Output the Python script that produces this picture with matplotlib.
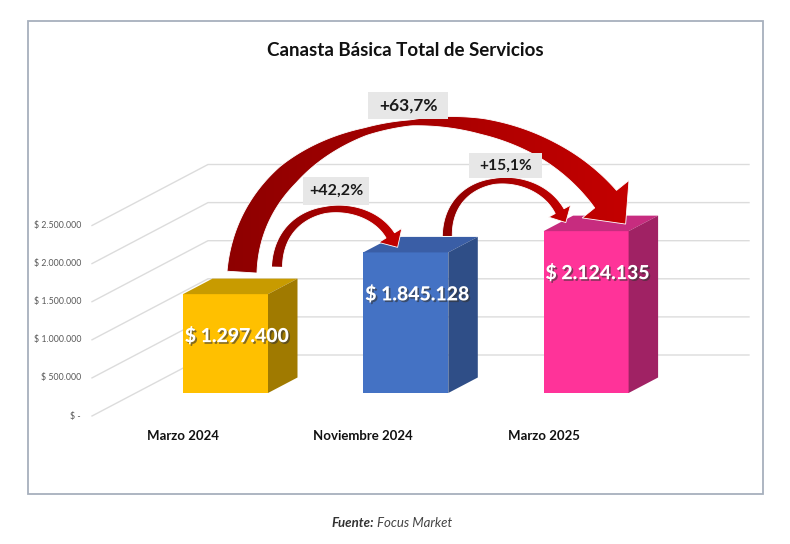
import numpy as np
import matplotlib
matplotlib.use("Agg")
import matplotlib.pyplot as plt
from matplotlib.patches import Polygon, Rectangle
from matplotlib.colors import LinearSegmentedColormap
import matplotlib.patheffects as pe

# ---------------- data ----------------
categories = ["Marzo 2024", "Noviembre 2024", "Marzo 2025"]
values = [1297400, 1845128, 2124135]
value_labels = ["$ 1.297.400", "$ 1.845.128", "$ 2.124.135"]
tick_values = [0, 500000, 1000000, 1500000, 2000000, 2500000]
tick_labels = ["$ -", "$ 500.000", "$ 1.000.000", "$ 1.500.000", "$ 2.000.000", "$ 2.500.000"]
changes = [("+42,2%", 0, 1), ("+15,1%", 1, 2), ("+63,7%", 0, 2)]
title = "Canasta Básica Total de Servicios"

front_colors = ["#FFC000", "#4472C4", "#FF3399"]
top_colors = ["#C89B00", "#3A5EA6", "#C72C7F"]
side_colors = ["#A07A00", "#2F4E87", "#A02264"]

FONT = ["Lato", "DejaVu Sans"]
plt.rcParams["font.family"] = FONT

W_PX, H_PX = 790, 544
PXC = 180.3      # pixels per category
PXV = 76.2       # pixels per million
X0, Y0 = 183, 393  # pixel of category 0 / value 0 on front plane

fig = plt.figure(figsize=(W_PX / 100, H_PX / 100), dpi=100)
fig.patch.set_facecolor("white")
ax = fig.add_axes([0, 0, 1, 1])
XLIM = (-X0 / PXC, (W_PX - X0) / PXC)
YLIM = ((Y0 - H_PX) / PXV * 1e6, Y0 / PXV * 1e6)
ax.set_xlim(*XLIM)
ax.set_ylim(*YLIM)
ax.axis("off")

def cx(dpx):
    return dpx / PXC

def cy(dpx):
    return dpx / PXV * 1e6

def to_px(x, y):
    d = ax.transData.transform(np.column_stack([np.atleast_1d(x), np.atleast_1d(y)]))
    return d[:, 0], H_PX - d[:, 1]

def from_px(X, Y):
    return ax.transData.inverted().transform(np.column_stack([X, H_PX - np.asarray(Y)]))

# frame
fig.add_artist(Rectangle((28 / W_PX, (H_PX - 494) / H_PX), (763 - 28) / W_PX, (494 - 21) / H_PX,
                         transform=fig.transFigure, fill=False, edgecolor="#A7B0BD", lw=1.3))

# ---------------- grid (floor + back wall) ----------------
x_front, x_back, x_end = cx(92 - X0), cx(208 - X0), cx(749 - X0)
off_front, off_back = -cy(23), cy(38)
for v, lab in zip(tick_values, tick_labels):
    ax.plot([x_front, x_back, x_end], [v + off_front, v + off_back, v + off_back],
            color="#DCDCDC", lw=1.0, zorder=1, solid_joinstyle="miter")
    ax.text(cx(81 - X0), v + off_front, lab, ha="right", va="center",
            fontsize=6.3, color="#595959", zorder=2)

# ---------------- 3D bars ----------------
bw = cx(85)
ddx, ddy = cx(29.5), cy(15.5)
idx = np.arange(len(categories))
ax.bar(idx, values, width=bw, align="edge", color=front_colors, zorder=3, linewidth=0)
for i, v in enumerate(values):
    top = Polygon([[i, v], [i + bw, v], [i + bw + ddx, v + ddy], [i + ddx, v + ddy]],
                  closed=True, facecolor=top_colors[i], edgecolor="none", zorder=3)
    side = Polygon([[i + bw, 0], [i + bw + ddx, ddy], [i + bw + ddx, v + ddy], [i + bw, v]],
                   closed=True, facecolor=side_colors[i], edgecolor="none", zorder=3)
    ax.add_patch(top)
    ax.add_patch(side)
    ax.text(i + cx(54), v - cy(42), value_labels[i], ha="center", va="center",
            fontsize=14, fontweight="black", color="white", zorder=6,
            path_effects=[pe.withSimplePatchShadow(offset=(1.2, -1.2), shadow_rgbFace="#333333", alpha=0.6)])
    ax.text(i, -cy(43), categories[i], ha="center", va="center",
            fontsize=9.5, fontweight="bold", color="#111111", zorder=6)

# ---------------- curved arrows ----------------
red_cmap = LinearSegmentedColormap.from_list("reds", ["#8E0000", "#A80000", "#C40000"])

def curved_arrow(p0, p3, d1, d2, widths, head_w, head_l):
    p0 = np.array(p0, float); p3 = np.array(p3, float)
    p1 = p0 + np.array(d1); p2 = p3 + np.array(d2)
    t = np.linspace(0, 1, 160)[:, None]
    B = (1 - t) ** 3 * p0 + 3 * (1 - t) ** 2 * t * p1 + 3 * (1 - t) * t ** 2 * p2 + t ** 3 * p3
    D = 3 * (1 - t) ** 2 * (p1 - p0) + 6 * (1 - t) * t * (p2 - p1) + 3 * t ** 2 * (p3 - p2)
    D = D / np.linalg.norm(D, axis=1)[:, None]
    N = np.column_stack([-D[:, 1], D[:, 0]])
    wt, wv = zip(*widths)
    w = np.interp(t[:, 0], wt, wv)[:, None]
    L = B + N * w / 2
    R = B - N * w / 2
    de, ne = D[-1], N[-1]
    tip = p3 + de * head_l
    pts = np.vstack([L, p3 + ne * head_w / 2, tip, p3 - ne * head_w / 2, R[::-1]])
    data = from_px(pts[:, 0], pts[:, 1])
    poly = Polygon(data, closed=True, facecolor="none", edgecolor="none", zorder=4)
    ax.add_patch(poly)
    xmin, ymin = data.min(axis=0)
    xmax, ymax = data.max(axis=0)
    grad = np.linspace(0, 1, 256)[None, :]
    im = ax.imshow(grad, cmap=red_cmap, extent=[xmin, xmax, ymin, ymax], aspect="auto",
                   zorder=4, interpolation="bilinear", origin="lower")
    im.set_clip_path(poly)
    ax.add_patch(Polygon(data, closed=True, facecolor="none", edgecolor="white",
                         lw=0.6, zorder=4.1, joinstyle="miter"))

bx, by = [], []
for i, v in enumerate(values):
    X, Y = to_px(i, v)
    bx.append(X[0]); by.append(Y[0])

# big arrow 0 -> 2
curved_arrow((bx[0] + 59, by[0] - 22), (bx[2] + 62, by[2] - 32), (10, -160), (-106, -132),
             [(0, 30), (0.25, 23), (0.45, 8), (0.55, 6), (0.7, 16), (0.85, 21), (1, 28)], 60, 32)
# 0 -> 1
curved_arrow((bx[0] + 94, by[0] - 27), (bx[1] + 27, by[1] - 17), (2, -69), (-25, -41),
             [(0, 11), (0.5, 7), (1, 10)], 27, 14)
# 1 -> 2
curved_arrow((bx[1] + 84, by[1] - 16), (bx[2] + 16, by[2] - 20), (0, -67), (-25, -46),
             [(0, 10), (0.5, 6), (1, 10)], 25, 13)

# ---------------- change labels ----------------
box_pos = {"+42,2%": (336, 191, 66, 28, 11.5), "+15,1%": (505.5, 165.5, 73, 25, 11.2),
           "+63,7%": (408, 105.5, 80, 27, 12.5)}
for lab, a, b in changes:
    X, Y, bwp, bhp, fs = box_pos[lab]
    (x0d, y0d), = from_px([X - bwp / 2], [Y + bhp / 2])
    (x1d, y1d), = from_px([X + bwp / 2], [Y - bhp / 2])
    ax.add_patch(Rectangle((x0d, y0d), x1d - x0d, y1d - y0d, facecolor="#E7E7E7",
                           edgecolor="none", zorder=5))
    (xc, yc), = from_px([X], [Y])
    ax.text(xc, yc, lab, ha="center", va="center", fontsize=fs,
            fontweight="bold", color="#1A1A1A", zorder=6)

# ---------------- title & source ----------------
fig.text(405 / W_PX, 1 - 50 / H_PX, title, ha="center", va="center", fontsize=13.5,
         fontweight="bold", color="#111111")
fig.text(374 / W_PX, 1 - 523 / H_PX, "Fuente:", ha="right", va="center", fontsize=9.5,
         fontweight="bold", style="italic", color="#333333")
fig.text(377 / W_PX, 1 - 523 / H_PX, "Focus Market", ha="left", va="center", fontsize=9.5,
         style="italic", color="#444444")

ax.set_xlim(*XLIM)
ax.set_ylim(*YLIM)
fig.savefig("out.png", dpi=100)
